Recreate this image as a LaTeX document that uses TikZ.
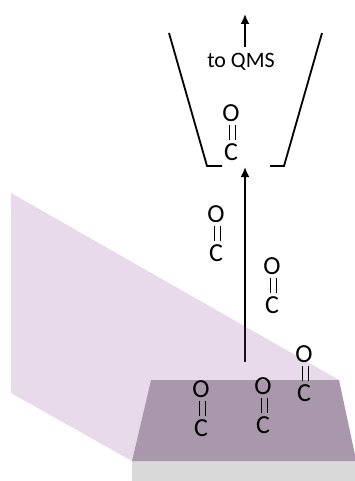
\documentclass[tikz,border=0pt]{standalone}
\usepackage{fontspec}
\setmainfont{Carlito}
\usetikzlibrary{arrows.meta}

\definecolor{beamviolet}{HTML}{8C419B}
\definecolor{sampletop}{HTML}{A998AB}
\definecolor{sampleside}{HTML}{D9D9D9}

\tikzset{
    wall/.style={line width=1.8pt,black},
    flow/.style={line width=1.8pt,black,-{Latex[length=10pt,width=9pt]}},
    molecule/.style={align=center,inner sep=0pt,font=\fontsize{26}{19.5}\selectfont}
}

% double bond as two upright strokes between the atoms
\newcommand{\carbonyl}{O\\\hspace*{3pt}\rule[1.2pt]{1.4pt}{15pt}\hspace{4.5pt}\rule[1.2pt]{1.4pt}{15pt}\\C}

\begin{document}
\begin{tikzpicture}[x=1pt,y=-1pt]
        \useasboundingbox (0,0) rectangle (355,481);

        % Desorbed stream, drawn below the beam
        \coordinate (surface) at (245,362);
        \coordinate (inlet) at (245,167);
        \coordinate (exitbase) at (245,47);
        \coordinate (exittip) at (245,14);
        \draw [flow] (surface) -- (inlet);
        \draw [flow] (exitbase) -- (exittip);

        % Beam and sample
        \path [fill=beamviolet,fill opacity=0.2] (11,193) -- (339,380) -- (151,380) --
            (132,461) -- (11,393) -- cycle;
        \path [fill=sampleside] (132,461) rectangle (355,481);
        \path [fill=sampletop] (151,380) -- (339,380) -- (355,455) -- (355,461) -- (132,461) -- cycle;

        % Funnel walls
        \draw [wall] (169,33) -- (207,166) -- (222,166);
        \draw [wall] (322,33) -- (284,166) -- (270,166);

        \node (qms) at (241,62) [font=\fontsize{22}{24}\selectfont,inner sep=0pt] {to QMS};

        % Molecules
        \foreach \name/\xpos/\ypos in {funnel/231/133,gasleft/216/234,gasright/272/286,
                                       edge/304/374,middle/263/406,left/201/409} {
            \node (co\name) at (\xpos,\ypos) [molecule] {\carbonyl};
        }
\end{tikzpicture}
\end{document}
